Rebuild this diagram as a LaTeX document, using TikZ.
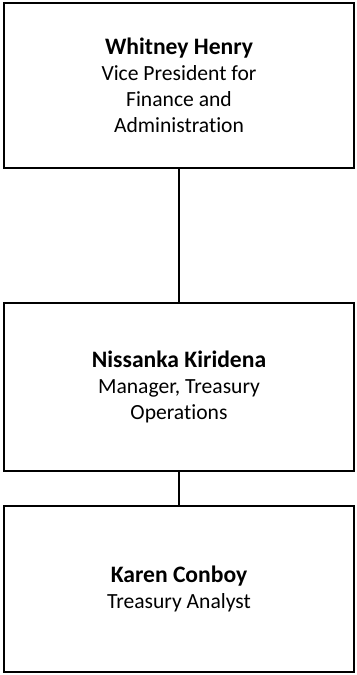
\documentclass[tikz,border=0pt]{standalone}
\usepackage{fontspec}
\setmainfont[Ligatures=NoCommon]{Carlito}
\usepackage{tikz}
\usetikzlibrary{positioning}

\newcommand{\personname}[1]{{\fontsize{11.8pt}{13.5pt}\selectfont\textbf{#1}}}

\begin{document}
\begin{tikzpicture}[x=1pt,y=1pt]

\tikzset{person box/.style={
		draw, line width=1pt,
		minimum width=175pt,
		minimum height=#1,
		align=center,
		font=\fontsize{10.8pt}{13pt}\selectfont,
		inner sep=0pt, outer sep=0pt
	},
	person box/.default=83pt
}
\useasboundingbox (0,0) rectangle (178.5,-337.5);
%top of chart
\node[person box=82.5pt, anchor=north] (vp) at (89.5,-1.5)
	{\personname{Whitney Henry}\\Vice President for\\Finance and\\Administration};
\node[person box=84pt, below=67.5pt of vp] (mgr)
	{\personname{Nissanka Kiridena}\\Manager, Treasury\\Operations};
\node[person box=83pt, below=17.5pt of mgr] (analyst)
	{\personname{Karen Conboy}\\Treasury Analyst};
\draw[line width=1pt] (vp) -- (mgr);
\draw[line width=1pt] (mgr) -- (analyst);
\end{tikzpicture}
\end{document}
